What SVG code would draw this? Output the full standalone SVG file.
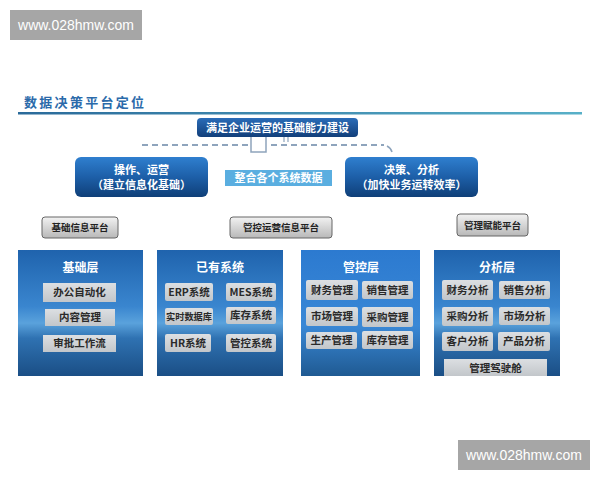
<svg xmlns="http://www.w3.org/2000/svg" width="600" height="480" viewBox="0 0 600 480">
<defs>
<linearGradient id="gBlue" x1="0" y1="0" x2="0" y2="1">
<stop offset="0" stop-color="#2f7fcf"/><stop offset="0.5" stop-color="#1d5fa8"/><stop offset="1" stop-color="#0f3f78"/>
</linearGradient>
<linearGradient id="gTop" x1="0" y1="0" x2="0" y2="1">
<stop offset="0" stop-color="#2a6cb8"/><stop offset="1" stop-color="#123f7a"/>
</linearGradient>
<linearGradient id="gPanel" x1="0" y1="0" x2="0" y2="1">
<stop offset="0" stop-color="#1f63ad"/><stop offset="0.45" stop-color="#3a86cf"/><stop offset="0.58" stop-color="#5aa2dc"/><stop offset="0.7" stop-color="#2f72b2"/><stop offset="1" stop-color="#1a4e85"/>
</linearGradient>
<linearGradient id="gPanel3" x1="0" y1="0" x2="0" y2="1">
<stop offset="0" stop-color="#2c7ad0"/><stop offset="0.6" stop-color="#3a88d6"/><stop offset="1" stop-color="#1f5a92"/>
</linearGradient>
<linearGradient id="gItem" x1="0" y1="0" x2="0" y2="1">
<stop offset="0" stop-color="#dcdfe2"/><stop offset="1" stop-color="#c2c6ca"/>
</linearGradient>
<linearGradient id="gPlat" x1="0" y1="0" x2="0" y2="1">
<stop offset="0" stop-color="#f2f2f2"/><stop offset="1" stop-color="#b8b8b8"/>
</linearGradient>
<linearGradient id="gRule" x1="0" y1="0" x2="1" y2="0">
<stop offset="0" stop-color="#2a6a9a"/><stop offset="1" stop-color="#58b0c8"/>
</linearGradient>
</defs>
<style>
text{font-family:"Noto Sans CJK SC","Noto Sans",sans-serif;font-weight:bold;text-anchor:middle;}
.wm{font-family:"Liberation Sans",Arial,sans-serif;font-weight:normal;fill:#fff;font-size:14px;}
.item{fill:url(#gItem);}
.it{fill:#2a2a2a;font-size:10.5px;}
.ptitle{fill:#fff;font-size:12px;}
.plat{fill:url(#gPlat);stroke:#666;stroke-width:1;}
.pt{fill:#222;font-size:9.5px;}
.wt{fill:#fff;font-size:11px;}
.dash{fill:none;stroke:#8ea4bc;stroke-width:2;stroke-dasharray:6 4;}
</style>
<rect width="600" height="480" fill="#ffffff"/>

<g id="watermark-top"><rect x="10" y="10" width="132" height="30" fill="#a6a6a6"/><text class="wm" x="76" y="30">www.028hmw.com</text></g>
<g id="watermark-bottom"><rect x="458" y="440" width="132" height="30" fill="#a6a6a6"/><text class="wm" x="524" y="460">www.028hmw.com</text></g>

<g id="title">
<text x="24" y="107" style="text-anchor:start;fill:#2b6aaa;font-size:13px;letter-spacing:2.3px">数据决策平台定位</text>
<rect x="18" y="112" width="564" height="2.5" fill="url(#gRule)"/>
</g>

<g id="connectors">
<path class="dash" d="M142 145 H248"/>
<path d="M251 137 V152 H266 V137" fill="none" stroke="#8ea4bc" stroke-width="1.5"/>
<path d="M284 137 V142 M288 137 V142" stroke="#8ea4bc" stroke-width="1.2"/>
<path class="dash" d="M271 145 H384"/>
<path d="M387 146 Q391 148 392 152" fill="none" stroke="#8ea4bc" stroke-width="1.5"/>
<polygon points="468,350 462,355 465.5,355 465.5,360 470.5,360 470.5,355 474,355" fill="#fff"/>
<polygon points="525,350 519,355 522.5,355 522.5,360 527.5,360 527.5,355 531,355" fill="#fff"/>
</g>

<g id="goal"><rect x="197" y="118" width="161" height="19" rx="4" fill="url(#gTop)"/><text class="wt" x="277.5" y="131.5">满足企业运营的基础能力建设</text></g>

<g id="ops"><rect x="75" y="157" width="133" height="40" rx="6" fill="url(#gBlue)"/>
<text class="wt" x="141.5" y="174">操作、运营</text><text class="wt" x="141.5" y="189">（建立信息化基础）</text></g>

<g id="integrate"><rect x="225" y="170" width="107" height="16" fill="#5aaee0"/><text class="wt" x="278.5" y="182">整合各个系统数据</text></g>

<g id="decide"><rect x="345" y="157" width="133" height="40" rx="6" fill="url(#gBlue)"/>
<text class="wt" x="411.5" y="174">决策、分析</text><text class="wt" x="411.5" y="189">（加快业务运转效率）</text></g>

<g id="plat1"><rect class="plat" x="42" y="217" width="76" height="21" rx="3"/><text class="pt" x="80" y="231">基础信息平台</text></g>
<g id="plat2"><rect class="plat" x="230" y="217" width="102" height="21" rx="3"/><text class="pt" x="281" y="231">管控运营信息平台</text></g>
<g id="plat3"><rect class="plat" x="457" y="214" width="71" height="22" rx="3"/><text class="pt" x="492.5" y="228.5">管理赋能平台</text></g>

<g id="panel-base">
<rect x="18" y="250" width="125" height="126" fill="url(#gPanel)"/>
<text class="ptitle" x="80.5" y="272">基础层</text>
<rect class="item" x="43" y="283" width="73" height="19"/><text class="it" x="79.5" y="296">办公自动化</text>
<rect class="item" x="45" y="309" width="70" height="17"/><text class="it" x="80" y="321">内容管理</text>
<rect class="item" x="43" y="335" width="73" height="17"/><text class="it" x="79.5" y="347">审批工作流</text>
</g>

<g id="panel-existing">
<rect x="157" y="250" width="126" height="126" fill="url(#gPanel)"/>
<text class="ptitle" x="220" y="272">已有系统</text>
<rect class="item" x="165" y="283" width="48" height="18" rx="2"/><text class="it" x="189" y="295.5">ERP系统</text>
<rect class="item" x="226" y="283" width="50" height="18" rx="2"/><text class="it" x="251" y="295.5">MES系统</text>
<rect class="item" x="165" y="308" width="48" height="17" rx="2"/><text class="it" x="189" y="320" style="font-size:9.2px">实时数据库</text>
<rect class="item" x="226" y="307" width="50" height="17" rx="2"/><text class="it" x="251" y="319">库存系统</text>
<rect class="item" x="165" y="334" width="46" height="18" rx="2"/><text class="it" x="188" y="346.5">HR系统</text>
<rect class="item" x="226" y="334" width="50" height="18" rx="2"/><text class="it" x="251" y="346.5">管控系统</text>
</g>

<g id="panel-control">
<rect x="301" y="250" width="119" height="126" fill="url(#gPanel3)"/>
<text class="ptitle" x="361" y="272">管控层</text>
<rect class="item" x="306" y="280" width="52" height="20" rx="2"/><text class="it" x="332" y="293.5">财务管理</text>
<rect class="item" x="362" y="281" width="51" height="18" rx="2"/><text class="it" x="387.5" y="293.5">销售管理</text>
<rect class="item" x="306" y="307" width="52" height="19" rx="2"/><text class="it" x="332" y="320">市场管理</text>
<rect class="item" x="362" y="307" width="51" height="20" rx="2"/><text class="it" x="387.5" y="320.5">采购管理</text>
<rect class="item" x="306" y="332" width="51" height="17" rx="2"/><text class="it" x="331.5" y="344">生产管理</text>
<rect class="item" x="362" y="331" width="51" height="18" rx="2"/><text class="it" x="387.5" y="343.5">库存管理</text>
</g>

<g id="panel-analysis">
<rect x="434" y="250" width="126" height="126" fill="url(#gPanel)"/>
<text class="ptitle" x="497" y="272">分析层</text>
<rect class="item" x="442" y="280" width="51" height="20" rx="2"/><text class="it" x="467.5" y="293.5">财务分析</text>
<rect class="item" x="499" y="281" width="51" height="18" rx="2"/><text class="it" x="524.5" y="293.5">销售分析</text>
<rect class="item" x="442" y="307" width="51" height="19" rx="2"/><text class="it" x="467.5" y="320">采购分析</text>
<rect class="item" x="499" y="307" width="51" height="18" rx="2"/><text class="it" x="524.5" y="319.5">市场分析</text>
<rect class="item" x="442" y="332" width="51" height="19" rx="2"/><text class="it" x="467.5" y="345">客户分析</text>
<rect class="item" x="498" y="332" width="52" height="19" rx="2"/><text class="it" x="524" y="345">产品分析</text>
<rect class="item" x="444" y="359" width="103" height="17"/><text class="it" x="495.5" y="371.5">管理驾驶舱</text>
</g>
</svg>
